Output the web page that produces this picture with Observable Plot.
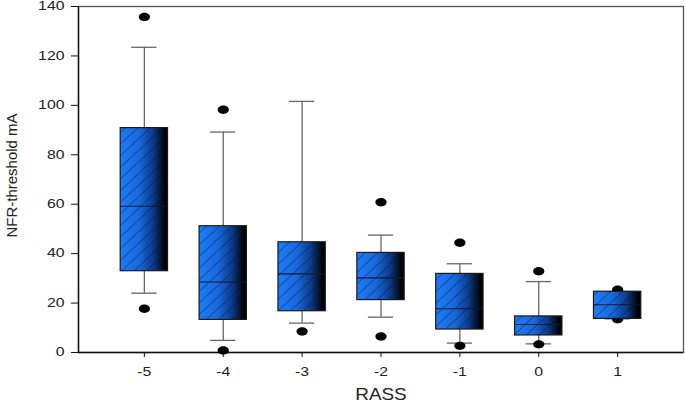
<!DOCTYPE html>
<html>
<head>
<meta charset="utf-8">
<script src="https://cdn.jsdelivr.net/npm/d3@7"></script>
<script src="https://cdn.jsdelivr.net/npm/@observablehq/plot@0.6"></script>
<style>
  html, body { margin: 0; padding: 0; background: #fff; }
  #chart svg { display: block; }
</style>
</head>
<body>
<div id="chart"></div>
<script>
// ---- data ----
const rass        = [-5, -4, -3, -2, -1, 0, 1];
const q1          = [32.9, 13.2, 16.7, 21.2, 9.3, 6.9, 13.6];
const medians     = [59.2, 28.5, 31.8, 30.2, 17.7, 11.3, 19.3];
const q3          = [90.8, 51.1, 44.6, 40.3, 31.8, 14.6, 24.6];
const whiskerLow  = [24.0, 4.9, 11.9, 14.3, 3.8, 3.5, 13.6];
const whiskerHigh = [123.5, 89.2, 101.6, 47.5, 35.9, 28.7, 24.6];
const outlierX    = [-5, -5, -4, -4, -3, -2, -2, -1, -1, 0, 0, 1, 1];
const outlierY    = [135.8, 17.7, 98.2, 0.8, 8.5, 60.8, 6.5, 44.4, 2.7, 32.9, 3.3, 25.4, 13.5];
const yTicks      = [0, 20, 40, 60, 80, 100, 120, 140];
const xTicks      = [-5, -4, -3, -2, -1, 0, 1];

const boxes = rass.map((x, i) => ({x, q1: q1[i], med: medians[i], q3: q3[i], lo: whiskerLow[i], hi: whiskerHigh[i]}));
const outliers = outlierX.map((x, i) => ({x, y: outlierY[i]}));

const boxHalf = 0.30;
const capHalf = 0.16;

// ellipse symbol for outliers
const ellipse = {
  draw(ctx, size) {
    const rx = 5.6, ry = 4.2, k = 0.5523;
    ctx.moveTo(rx, 0);
    ctx.bezierCurveTo(rx, ry * k, rx * k, ry, 0, ry);
    ctx.bezierCurveTo(-rx * k, ry, -rx, ry * k, -rx, 0);
    ctx.bezierCurveTo(-rx, -ry * k, -rx * k, -ry, 0, -ry);
    ctx.bezierCurveTo(rx * k, -ry, rx, -ry * k, rx, 0);
    ctx.closePath();
  }
};

const chart = Plot.plot({
  width: 685,
  height: 408,
  marginLeft: 78,
  marginRight: 2,
  marginTop: 6,
  marginBottom: 56,
  style: {fontFamily: "'Liberation Sans', Arial, sans-serif", fontSize: "12px", color: "#222", background: "#fff"},
  x: {domain: [-5.835, 1.835]},
  y: {domain: [0, 140]},
  marks: [
    Plot.frame({stroke: "#555", strokeWidth: 1.3}),
    Plot.axisY(yTicks, {tickSize: 7, tickPadding: 7, label: null, stroke: "#111", fontSize: 12}),
    Plot.axisX(xTicks, {tickSize: 5, tickPadding: 10, label: null, stroke: "#111", fontSize: 12, tickFormat: d => String(d).replace("−", "-")}),
    Plot.ruleY([0], {stroke: "#111", strokeWidth: 1.4}),
    Plot.ruleX([-5.835], {stroke: "#111", strokeWidth: 1.4}),
    // whiskers
    Plot.ruleX(boxes, {x: "x", y1: "lo", y2: "q1", stroke: "#666", strokeWidth: 1.3}),
    Plot.ruleX(boxes, {x: "x", y1: "q3", y2: "hi", stroke: "#666", strokeWidth: 1.3}),
    // caps
    Plot.ruleY(boxes, {y: "lo", x1: d => d.x - capHalf, x2: d => d.x + capHalf, stroke: "#666", strokeWidth: 1.3}),
    Plot.ruleY(boxes, {y: "hi", x1: d => d.x - capHalf, x2: d => d.x + capHalf, stroke: "#666", strokeWidth: 1.3}),
    // outliers
    Plot.dot(outliers, {x: "x", y: "y", symbol: ellipse, fill: "#000", stroke: "none"}),
    // boxes: gradient, then hatch
    Plot.rect(boxes, {x1: d => d.x - boxHalf, x2: d => d.x + boxHalf, y1: "q1", y2: "q3", fill: "url(#boxgrad)"}),
    Plot.rect(boxes, {x1: d => d.x - boxHalf, x2: d => d.x + boxHalf, y1: "q1", y2: "q3", fill: "url(#hatch)", stroke: "#1a1a1a", strokeWidth: 1.2}),
    // medians
    Plot.ruleY(boxes, {y: "med", x1: d => d.x - boxHalf, x2: d => d.x + boxHalf, stroke: "#0c1a33", strokeWidth: 1.1}),
    // axis titles
    Plot.text(["NFR-threshold mA"], {frameAnchor: "left", textAnchor: "middle", dx: -66, dy: -4, rotate: -90, fontSize: 15, fill: "#222"}),
    Plot.text(["RASS"], {frameAnchor: "bottom", textAnchor: "middle", dy: 47, fontSize: 16, fill: "#222"})
  ]
});

// gradient + hatch definitions
const ns = "http://www.w3.org/2000/svg";
const defs = document.createElementNS(ns, "defs");
defs.innerHTML = `
  <linearGradient id="boxgrad" x1="0" y1="0" x2="1" y2="0">
    <stop offset="0" stop-color="#1e7cf6"/>
    <stop offset="0.4" stop-color="#1868dc"/>
    <stop offset="0.7" stop-color="#0c3a88"/>
    <stop offset="0.95" stop-color="#000000"/>
  </linearGradient>
  <pattern id="hatch" patternUnits="userSpaceOnUse" width="8.5" height="8.5" patternTransform="rotate(47)">
    <line x1="0" y1="0" x2="0" y2="8.5" stroke="#08102a" stroke-width="0.9" stroke-opacity="0.85"/>
  </pattern>`;
chart.insertBefore(defs, chart.firstChild);

// the reference's lettering is horizontally wide: stretch non-rotated texts about their anchor
chart.querySelectorAll("text").forEach(t => {
  const tr = t.getAttribute("transform") || "";
  if (tr.includes("rotate")) return;
  const s = t.textContent === "RASS" ? 1.18 : 1.32;
  t.setAttribute("transform", (tr + ` scale(${s},1)`).trim());
});
document.getElementById("chart").appendChild(chart);
</script>
</body>
</html>
